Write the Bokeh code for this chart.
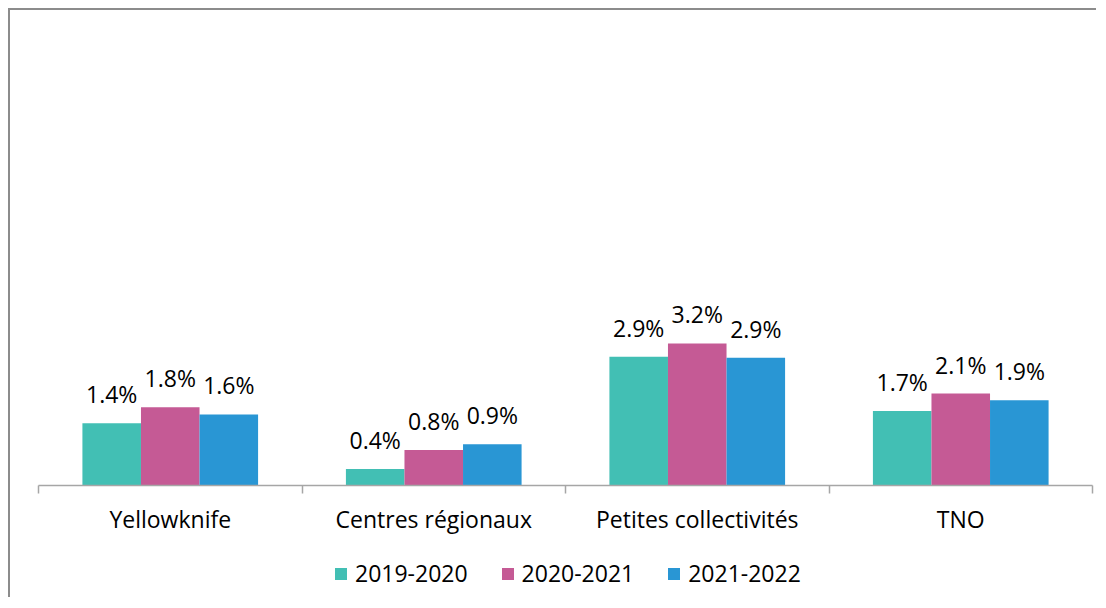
from bokeh.plotting import figure
from bokeh.layouts import column
from bokeh.models import (Range1d, FixedTicker, CustomJSTickFormatter, LabelSet,
                          ColumnDataSource, Legend, LegendItem)
from bokeh.core.properties import value
from bokeh.embed import file_html
from bokeh.resources import INLINE

categories = ["Yellowknife", "Centres régionaux", "Petites collectivités", "TNO"]
series = ["2019-2020", "2020-2021", "2021-2022"]
v_2019_2020 = [1.40, 0.37, 2.90, 1.68]
v_2020_2021 = [1.76, 0.80, 3.20, 2.07]
v_2021_2022 = [1.60, 0.93, 2.88, 1.92]
colors = ["#42BFB4", "#C55A95", "#2996D4"]

FONT = "Open Sans"
BORDER = "2px solid #8c8c8c"

p = figure(x_range=Range1d(0, len(categories)), y_range=Range1d(0, 10),
           frame_width=1052, frame_height=442,
           min_border_left=28, min_border_right=6, min_border_top=31,
           min_border_bottom=0,
           y_axis_location=None, toolbar_location=None,
           output_backend="svg")
p.styles = {"margin-left": "8px", "margin-top": "8px",
            "border-left": BORDER, "border-top": BORDER}
p.outline_line_color = None
p.xgrid.visible = False
p.ygrid.visible = False
p.background_fill_color = "white"
p.border_fill_color = "white"

# legend strip: a second figure whose whole canvas is its frame
lg = figure(x_range=Range1d(0, len(categories)), y_range=Range1d(0, 10),
            frame_width=1086, frame_height=62,
            min_border_left=0, min_border_right=0, min_border_top=0,
            min_border_bottom=0,
            x_axis_location=None, y_axis_location=None,
            toolbar_location=None, output_backend="svg")
lg.styles = {"margin-left": "8px", "border-left": BORDER}
lg.outline_line_color = None
lg.xgrid.visible = False
lg.ygrid.visible = False
lg.background_fill_color = "white"
lg.border_fill_color = "white"

bar_w = 1 / 4.5
offsets = [-bar_w, 0.0, bar_w]
items = []
for vals, name, col, off in zip([v_2019_2020, v_2020_2021, v_2021_2022], series, colors, offsets):
    xs = [i + 0.5 + off for i in range(len(categories))]
    src = ColumnDataSource(dict(x=xs, top=vals,
                                lab=[f"{v:.1f}%" for v in vals]))
    p.vbar(x="x", top="top", width=bar_w, bottom=0, source=src,
           fill_color=col, line_color=None)
    r2 = lg.vbar(x="x", top="top", width=bar_w, bottom=0, source=src,
                 fill_color=col, line_color=None, visible=False)
    items.append(LegendItem(label=name, renderers=[r2]))
    labels = LabelSet(x="x", y="top", text="lab", source=src,
                      text_align="center", text_baseline="alphabetic",
                      y_offset=20, text_font=value(FONT),
                      text_font_size=value("23px"), text_color="#000000")
    p.add_layout(labels)

ax = p.xaxis[0]
ax.ticker = FixedTicker(ticks=[i + 0.5 for i in range(len(categories))],
                        minor_ticks=list(range(len(categories) + 1)))
ax.formatter = CustomJSTickFormatter(args=dict(labels=categories),
                                     code="return labels[Math.floor(tick)] || '';")
ax.axis_line_color = "#a6a6a6"
ax.axis_line_width = 1.5
ax.major_tick_out = 0
ax.major_tick_in = 0
ax.minor_tick_out = 8
ax.minor_tick_in = 0
ax.minor_tick_line_color = "#a6a6a6"
ax.minor_tick_line_width = 1.5
ax.major_label_standoff = 9
ax.major_label_text_font = FONT
ax.major_label_text_font_size = "23px"
ax.major_label_text_color = "#000000"

legend = Legend(items=items, orientation="horizontal", location=(323, 8),
                glyph_width=15, glyph_height=15, label_standoff=7, spacing=32,
                label_text_font=FONT, label_text_font_size="23px",
                label_text_color="#000000", border_line_color=None,
                background_fill_alpha=0, inactive_fill_alpha=0,
                margin=0, padding=0)
lg.add_layout(legend, "center")

layout = column(p, lg, spacing=0)
open("out.html", "w").write(file_html(layout, INLINE))
